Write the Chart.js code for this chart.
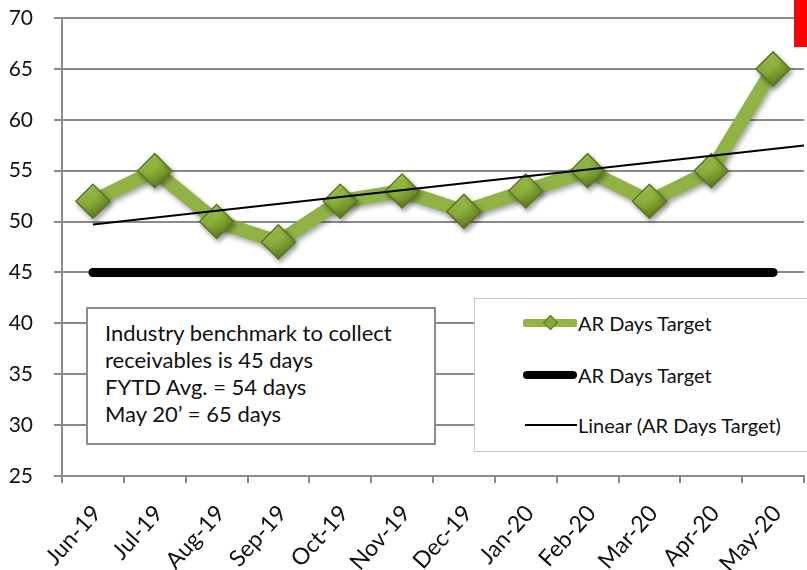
<!DOCTYPE html>
<html>
<head>
<meta charset="utf-8">
<script src="https://cdn.jsdelivr.net/npm/chart.js@4/dist/chart.umd.min.js"></script>
<style>
  body { margin: 0; background: #fff; }
  #wrap { position: relative; width: 807px; height: 570px; overflow: hidden; font-family: Lato, "Open Sans", sans-serif; color: #111; }
  #chart { position: absolute; left: 0; top: 0; }
  .note { position: absolute; left: 86px; top: 307px; width: 350px; height: 138px; box-sizing: border-box;
          border: 2px solid #8c8c8c; background: #fff; padding: 10px 0 0 17px; font-size: 22px; line-height: 27px; }
  .legend { position: absolute; left: 474px; top: 298px; width: 345px; height: 154px; box-sizing: border-box;
            border: 1px solid #c9c9c9; background: #fff; }
  .item { position: absolute; left: 578px; font-size: 20px; line-height: 24px; white-space: nowrap; }
  .sym { position: absolute; }
  .flag { position: absolute; left: 794px; top: 0; width: 13px; height: 47px; background: #ff0000; }
</style>
</head>
<body>
<div id="wrap">
  <canvas id="chart" width="807" height="570"></canvas>
  <div class="note">Industry benchmark to collect<br>receivables is 45 days<br>FYTD Avg. = 54 days<br>May 20’ = 65 days</div>
  <div class="legend"></div>
  <div class="sym" style="left:523px;top:319px;width:54px;height:8px;background:#93b548;border-radius:2px;"></div>
  <div class="sym" style="left:545px;top:317px;width:9px;height:9px;background:#86a83a;border:1px solid #5d7a22;transform:rotate(45deg);"></div>
  <div class="item" style="top:311px;">AR Days Target</div>
  <div class="sym" style="left:523px;top:371px;width:54px;height:8px;background:#000;border-radius:4px;"></div>
  <div class="item" style="top:363px;">AR Days Target</div>
  <div class="sym" style="left:525px;top:424px;width:52px;height:2px;background:#000;"></div>
  <div class="item" style="top:413px;">Linear (AR Days Target)</div>
  <div class="flag"></div>
</div>
<script>
// Monthly AR days, June 2019 – May 2020
const months = ['Jun-19', 'Jul-19', 'Aug-19', 'Sep-19', 'Oct-19', 'Nov-19',
                'Dec-19', 'Jan-20', 'Feb-20', 'Mar-20', 'Apr-20', 'May-20'];
const arDays = [52, 55, 50, 48, 52, 53, 51, 53, 55, 52, 55, 65];
const targetDays = [45, 45, 45, 45, 45, 45, 45, 45, 45, 45, 45, 45];
const yMin = 25, yMax = 70, yStep = 5;
// trendline is projected half a period past the last month
const trendForward = 0.5;

// least-squares fit of the AR days series
function linearFit(values) {
  const n = values.length;
  const mx = (n - 1) / 2;
  const my = values.reduce((a, b) => a + b, 0) / n;
  let sxy = 0, sxx = 0;
  values.forEach((v, i) => { sxy += (i - mx) * (v - my); sxx += (i - mx) * (i - mx); });
  const slope = sxy / sxx;
  return x => my + slope * (x - mx);
}
const fit = linearFit(arDays);
const trendEnd = months.length - 1 + trendForward;
const trendPoints = [{ x: 0, y: fit(0) }, { x: trendEnd, y: fit(trendEnd) }];

const arPoints = arDays.map((v, i) => ({ x: i, y: v }));
const targetPoints = targetDays.map((v, i) => ({ x: i, y: v }));

const gray = '#8a8a8a';

// bevelled fill for each diamond marker, lit from the upper left
function markerFill(ctx) {
  const chart = ctx.chart;
  const raw = ctx.raw;
  if (!raw || !chart.scales.x || !chart.scales.y) return '#88aa3a';
  const px = chart.scales.x.getPixelForValue(raw.x);
  const py = chart.scales.y.getPixelForValue(raw.y);
  if (!isFinite(px) || !isFinite(py)) return '#88aa3a';
  const g = chart.ctx.createLinearGradient(px - 10, py - 16, px + 8, py + 16);
  g.addColorStop(0, '#b4d85c');
  g.addColorStop(0.45, '#8fb33c');
  g.addColorStop(1, '#55701c');
  return g;
}

// soft drop shadow under the green series
const shadowPlugin = {
  id: 'seriesShadow',
  beforeDatasetDraw(chart, args) {
    if (args.index !== 1) return;
    const ctx = chart.ctx;
    ctx.save();
    ctx.shadowColor = 'rgba(0,0,0,0.35)';
    ctx.shadowBlur = 5;
    ctx.shadowOffsetX = 2;
    ctx.shadowOffsetY = 3;
  },
  afterDatasetDraw(chart, args) {
    if (args.index !== 1) return;
    chart.ctx.restore();
  }
};

new Chart(document.getElementById('chart'), {
  type: 'line',
  data: {
    datasets: [
      {
        label: 'Linear (AR Days Target)',
        data: trendPoints,
        borderColor: '#000',
        borderWidth: 2,
        pointRadius: 0,
        order: 0,
        clip: false
      },
      {
        label: 'AR Days Target',
        data: arPoints,
        borderColor: '#91b346',
        borderWidth: 14,
        pointStyle: 'rectRot',
        pointRadius: 17,
        pointBackgroundColor: markerFill,
        pointBorderColor: '#5a7720',
        pointBorderWidth: 1.5,
        borderJoinStyle: 'round',
        order: 1,
        clip: false
      },
      {
        label: 'AR Days Target',
        data: targetPoints,
        borderColor: '#000',
        borderWidth: 9,
        borderCapStyle: 'round',
        pointRadius: 0,
        order: 2,
        clip: false
      }
    ]
  },
  options: {
    responsive: false,
    animation: false,
    layout: { autoPadding: false, padding: { left: 0, top: 18, right: 3, bottom: 0 } },
    plugins: { legend: { display: false }, tooltip: { enabled: false } },
    scales: {
      x: {
        type: 'linear',
        min: -0.5,
        max: months.length - 0.5,
        afterBuildTicks: scale => { scale.ticks = months.map((_, i) => ({ value: i })); },
        afterFit: scale => { scale.height = 94; scale.paddingLeft = 0; scale.paddingRight = 0; },
        grid: { offset: true, drawOnChartArea: false, drawTicks: true, tickLength: 7, color: gray, lineWidth: 2 },
        border: { color: gray, width: 2 },
        ticks: {
          autoSkip: false,
          minRotation: 48,
          maxRotation: 48,
          padding: 17,
          labelOffset: 4,
          color: '#111',
          font: { family: 'Lato', size: 23 },
          callback: v => months[v]
        }
      },
      y: {
        min: yMin,
        max: yMax,
        afterFit: scale => { scale.width = 62; scale.paddingTop = 0; scale.paddingBottom = 0; },
        grid: { color: gray, lineWidth: 2, tickLength: 8 },
        border: { color: gray, width: 2 },
        ticks: {
          stepSize: yStep,
          padding: 21,
          color: '#111',
          font: { family: 'Lato', size: 21 }
        }
      }
    }
  },
  plugins: [shadowPlugin]
});
</script>
</body>
</html>
